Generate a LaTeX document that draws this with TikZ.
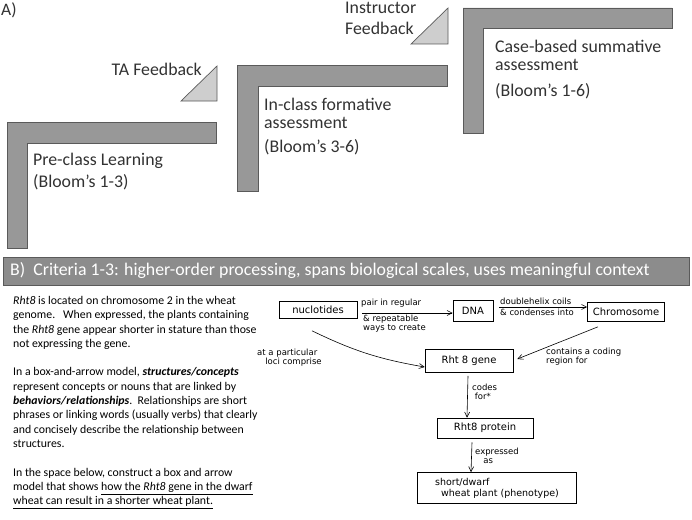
\documentclass[tikz,border=0pt]{standalone}
\usepackage{fontspec}
\setmainfont{Carlito}
\newfontfamily\handfont{DejaVu Sans}
\usetikzlibrary{positioning,arrows.meta}
\definecolor{stepgray}{RGB}{152,152,152}
\definecolor{wedgegray}{RGB}{206,206,206}
\definecolor{edgegray}{RGB}{90,90,90}
\definecolor{inkgray}{RGB}{50,50,50}
\definecolor{bannergray}{RGB}{140,140,140}

\tikzset{
  stepbar/.style={fill=stepgray, draw=edgegray, line width=0.7pt},
  wedge/.style={fill=wedgegray, draw=edgegray, line width=0.7pt},
  steptext/.style={anchor=west, inner sep=0pt, text=inkgray, font=\fontsize{17.8}{21}\selectfont},
  hbox/.style={draw, line width=0.6pt, inner sep=2pt, font=\handfont\fontsize{10}{11}\selectfont},
  hlabel/.style={inner sep=0pt, align=left, font=\handfont\fontsize{8.5}{9}\selectfont},
  harrow/.style={-{Straight Barb[length=5pt,width=5pt]}, line width=0.6pt},
}

\begin{document}
\begin{tikzpicture}[x=1pt, y=-1pt]
  \useasboundingbox (0,0) rectangle (692,519);

  % A) steps
  \node[anchor=north west, inner sep=0pt, text=inkgray, font=\fontsize{17.5}{20}\selectfont] (tagA) at (1,3) {A)};

  \draw[stepbar] (7,122) -- (216,122) -- (216,143) -- (27,143) -- (27,248) -- (7,248) -- cycle;
  \draw[stepbar] (237,65) -- (447,65) -- (447,86) -- (258,86) -- (258,191) -- (237,191) -- cycle;
  \draw[stepbar] (463,8) -- (672,8) -- (672,28) -- (483,28) -- (483,133) -- (463,133) -- cycle;

  \draw[wedge] (217,66) -- (217,101) -- (181,101) -- cycle;
  \draw[wedge] (448,8) -- (448,44) -- (411,44) -- cycle;

  \node[steptext, anchor=east] (taFb) at (202,69) {TA Feedback};
  \node[steptext, align=left, anchor=west] (instrFb) at (345,18) {Instructor\\Feedback};

  \node[steptext] (pre) at (33,161) {Pre-class Learning};
  \node[steptext] (preB) at (33,182) {(Bloom’s 1-3)};

  \node[steptext] (inc) at (264,104) {In-class formative};
  \node[steptext] (incA) at (264,123) {assessment};
  \node[steptext] (incB) at (264,147) {(Bloom’s 3-6)};

  \node[steptext] (cas) at (495,46) {Case-based summative};
  \node[steptext] (casA) at (495,65) {assessment};
  \node[steptext] (casB) at (495,91) {(Bloom’s 1-6)};

  % B) banner
  \draw[fill=bannergray, draw=edgegray, line width=0.7pt] (3,257) rectangle (689,285);
  \node[anchor=west, inner sep=0pt, text=white, font=\fontsize{17.8}{19}\selectfont] (banner) at (10,271)
    {B)\ \ Criteria 1-3: higher-order processing, spans biological scales, uses meaningful context};

  % prompt text
  \node[anchor=north west, inner sep=0pt, align=left, text=black, font=\fontsize{11.8}{14.3}\selectfont] (prompt) at (13,296)
    {\textit{Rht8} is located on chromosome 2 in the wheat\\
     genome.\ \ \ When expressed, the plants containing\\
     the \textit{Rht8} gene appear shorter in stature than those\\
     not expressing the gene.\\[14.3pt]
     In a box-and-arrow model, \textbf{\textit{structures/concepts}}\\
     represent concepts or nouns that are linked by\\
     \textbf{\textit{behaviors/relationships}}.\ \ Relationships are short\\
     phrases or linking words (usually verbs) that clearly\\
     and concisely describe the relationship between\\
     structures.\\[14.3pt]
     In the space below, construct a box and arrow\\
     model that shows \underline{how the \textit{Rht8} gene in the dwarf}\\
     \underline{wheat can result in a shorter wheat plant.}};

  % hand-drawn model
  \node[hbox, minimum width=78pt, minimum height=17pt] (nuc) at (318,310) {nuclotides};
  \node[hbox, minimum width=40pt, minimum height=21pt] (dna) at (473,311) {DNA};
  \node[hbox, minimum width=77pt, minimum height=19pt] (chrom) at (626,312) {Chromosome};
  \node[hbox, minimum width=88pt, minimum height=23pt] (gene) at (469,361) {Rht 8 gene};
  \node[hbox, minimum width=96pt, minimum height=20pt] (prot) at (485,428) {Rht8 protein};
  \node[hbox, minimum width=159pt, minimum height=31pt, align=left, font=\handfont\fontsize{9.5}{11}\selectfont] (plant) at (497,488)
    {short/dwarf\\\ \ wheat plant (phenotype)};

  \draw[harrow] ([shift={(5,3)}]nuc.east) -- ([shift={(0,2)}]dna.west);
  \node[hlabel, anchor=south west] (l1) at (361,307) {pair in regular};
  \node[hlabel, anchor=north west] (l2) at (363,315) {\& repeatable\\ways to create};

  \draw[harrow] ([shift={(6,-4)}]dna.east) -- ([shift={(0,-5)}]chrom.west);
  \node[hlabel, anchor=south west] (l3) at (500,305) {doublehelix coils};
  \node[hlabel, anchor=north west] (l4) at (500,309) {\& condenses into};

  \draw[harrow] ([shift={(-6,12)}]nuc.south) to[bend right=8] ([shift={(0,6)}]gene.west);
  \node[hlabel, anchor=west] (l5) at (257,358) {at a particular\\\ \ \ loci comprise};

  \draw[harrow] ([shift={(-28,5)}]chrom.south) -- ([shift={(4,-2)}]gene.east);
  \node[hlabel, anchor=west] (l6) at (546,357) {contains a coding\\region for};

  \draw[harrow] ([shift={(-1,3)}]gene.south) -- ([shift={(-18,0)}]prot.north);
  \node[hlabel, anchor=west] (l7) at (472,392) {codes\\\ for*};

  \draw[harrow] ([shift={(-13,4)}]prot.south) -- ([shift={(-26,0)}]plant.north);
  \node[hlabel, anchor=west] (l8) at (475,456) {expressed\\\ \ \ as};
\end{tikzpicture}
\end{document}
